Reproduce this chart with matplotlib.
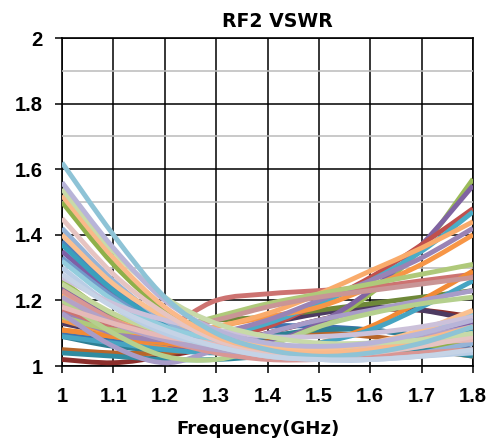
import numpy as np
import matplotlib
matplotlib.use("Agg")
import matplotlib.pyplot as plt
from matplotlib.path import Path
from matplotlib.patches import PathPatch
from matplotlib.ticker import MultipleLocator

# frequency points (GHz)
freq = [1.0, 1.1, 1.2, 1.3, 1.4, 1.5, 1.6, 1.7, 1.8]

# VSWR curves (one list per trace)
s01 = [1.02, 1.01, 1.03, 1.06, 1.10, 1.14, 1.17, 1.17, 1.15]
s02 = [1.05, 1.04, 1.04, 1.06, 1.08, 1.10, 1.09, 1.07, 1.04]
s03 = [1.10, 1.08, 1.07, 1.08, 1.12, 1.12, 1.11, 1.09, 1.05]
s04 = [1.13, 1.10, 1.09, 1.10, 1.13, 1.16, 1.18, 1.17, 1.14]
s05 = [1.09, 1.06, 1.05, 1.06, 1.09, 1.11, 1.11, 1.09, 1.07]
s06 = [1.11, 1.09, 1.06, 1.04, 1.03, 1.04, 1.06, 1.05, 1.03]
s07 = [1.20, 1.15, 1.13, 1.14, 1.15, 1.17, 1.19, 1.21, 1.23]
s08 = [1.26, 1.15, 1.08, 1.05, 1.07, 1.12, 1.22, 1.36, 1.57]
s09 = [1.24, 1.14, 1.07, 1.05, 1.07, 1.13, 1.23, 1.37, 1.55]
s10 = [1.20, 1.12, 1.07, 1.08, 1.12, 1.19, 1.27, 1.37, 1.48]
s11 = [1.18, 1.11, 1.07, 1.09, 1.13, 1.19, 1.26, 1.35, 1.47]
s12 = [1.14, 1.10, 1.09, 1.12, 1.15, 1.18, 1.24, 1.31, 1.40]
s13 = [1.38, 1.24, 1.14, 1.08, 1.04, 1.02, 1.03, 1.05, 1.08]
s14 = [1.17, 1.12, 1.12, 1.20, 1.22, 1.23, 1.24, 1.26, 1.28]
s15 = [1.50, 1.31, 1.17, 1.09, 1.05, 1.03, 1.03, 1.05, 1.08]
s16 = [1.35, 1.22, 1.13, 1.09, 1.06, 1.05, 1.06, 1.09, 1.13]
s17 = [1.37, 1.23, 1.13, 1.08, 1.05, 1.04, 1.05, 1.08, 1.11]
s18 = [1.11, 1.09, 1.07, 1.05, 1.05, 1.07, 1.12, 1.20, 1.29]
s19 = [1.04, 1.03, 1.02, 1.02, 1.03, 1.04, 1.05, 1.05, 1.03]
s20 = [1.09, 1.07, 1.05, 1.04, 1.05, 1.07, 1.11, 1.18, 1.26]
s21 = [1.22, 1.14, 1.10, 1.12, 1.16, 1.22, 1.29, 1.36, 1.44]
s22 = [1.16, 1.10, 1.08, 1.10, 1.14, 1.20, 1.26, 1.33, 1.42]
s23 = [1.15, 1.11, 1.11, 1.15, 1.19, 1.22, 1.25, 1.28, 1.31]
s24 = [1.19, 1.13, 1.11, 1.14, 1.18, 1.21, 1.23, 1.25, 1.27]
s25 = [1.33, 1.21, 1.12, 1.07, 1.04, 1.03, 1.04, 1.06, 1.10]
s26 = [1.16, 1.06, 1.01, 1.05, 1.10, 1.14, 1.17, 1.20, 1.23]
s27 = [1.20, 1.10, 1.03, 1.02, 1.06, 1.12, 1.16, 1.19, 1.21]
s28 = [1.42, 1.26, 1.14, 1.07, 1.03, 1.02, 1.02, 1.04, 1.07]
s29 = [1.23, 1.14, 1.08, 1.04, 1.02, 1.02, 1.03, 1.04, 1.05]
s30 = [1.25, 1.16, 1.10, 1.06, 1.04, 1.04, 1.05, 1.07, 1.09]
s31 = [1.21, 1.13, 1.08, 1.05, 1.04, 1.05, 1.07, 1.09, 1.12]
s32 = [1.18, 1.13, 1.09, 1.07, 1.06, 1.06, 1.06, 1.07, 1.08]
s33 = [1.30, 1.18, 1.10, 1.06, 1.03, 1.02, 1.02, 1.03, 1.04]
s34 = [1.32, 1.20, 1.12, 1.08, 1.05, 1.05, 1.07, 1.10, 1.16]
s35 = [1.40, 1.25, 1.15, 1.09, 1.06, 1.05, 1.07, 1.11, 1.17]
s36 = [1.27, 1.19, 1.14, 1.11, 1.09, 1.09, 1.10, 1.12, 1.15]
s37 = [1.45, 1.28, 1.16, 1.08, 1.04, 1.03, 1.04, 1.06, 1.09]
s38 = [1.52, 1.33, 1.18, 1.09, 1.05, 1.04, 1.05, 1.08, 1.12]
s39 = [1.54, 1.35, 1.21, 1.13, 1.09, 1.07, 1.07, 1.08, 1.10]
s40 = [1.56, 1.36, 1.20, 1.11, 1.07, 1.06, 1.07, 1.10, 1.14]
s41 = [1.62, 1.40, 1.21, 1.10, 1.05, 1.03, 1.04, 1.07, 1.12]
s42 = [1.28, 1.18, 1.11, 1.06, 1.03, 1.02, 1.02, 1.03, 1.05]

series = [s01, s02, s03, s04, s05, s06, s07, s08, s09, s10, s11, s12, s13, s14,
          s15, s16, s17, s18, s19, s20, s21, s22, s23, s24, s25, s26, s27, s28,
          s29, s30, s31, s32, s33, s34, s35, s36, s37, s38, s39, s40, s41, s42]

colors = ['#8B2E2B', '#B8662A', '#3F72AF', '#4D3B62', '#2E7F94', '#F08A3C',
          '#6E8838', '#9BBB59', '#8064A2', '#C0504D', '#4BACC6', '#F79646',
          '#4F81BD', '#CD7371', '#8FB04A', '#7E5FA6', '#3AA0BC', '#F28A35',
          '#2F8BA0', '#46A4C2', '#F9AB6B', '#9983B5', '#AFC97A', '#C99596',
          '#729ACA', '#A89CC8', '#B5D08E', '#95B3D7', '#D99694', '#C3D69B',
          '#B3A2C7', '#E6B9B8', '#B9CDE5', '#93CDDD', '#FAC090', '#CCC1DA',
          '#E6C4C2', '#FAB98A', '#C8DAA8', '#B8B4D8', '#8EC3D6', '#C5D3E6']


def smooth_path(x, y):
    # Excel style "smoothed line": cubic bezier through the points
    x = np.asarray(x, float)
    y = np.asarray(y, float)
    n = len(x)
    verts = [(x[0], y[0])]
    codes = [Path.MOVETO]
    for i in range(n - 1):
        i0 = max(i - 1, 0)
        i3 = min(i + 2, n - 1)
        c1 = (x[i] + (x[i + 1] - x[i0]) / 6, y[i] + (y[i + 1] - y[i0]) / 6)
        c2 = (x[i + 1] - (x[i3] - x[i]) / 6, y[i + 1] - (y[i3] - y[i]) / 6)
        verts += [c1, c2, (x[i + 1], y[i + 1])]
        codes += [Path.CURVE4] * 3
    return Path(verts, codes)


fig = plt.figure(figsize=(4.93, 4.41), dpi=100)
ax = fig.add_axes([0.1258, 0.170, 0.8336, 0.7438])

for vals, c in zip(series, colors):
    ax.add_patch(PathPatch(smooth_path(freq, vals), facecolor='none', edgecolor=c,
                           lw=3.5, capstyle='butt', joinstyle='round', zorder=2))

ax.set_xlim(1.0, 1.8)
ax.set_ylim(1.0, 2.0)
ax.yaxis.set_minor_locator(MultipleLocator(0.1))
ax.grid(True, which='major', color='black', lw=1.1)
ax.grid(True, which='minor', axis='y', color='#BBBBBB', lw=1.1)
ax.set_axisbelow(True)
for sp in ax.spines.values():
    sp.set_color('black')
    sp.set_linewidth(1.2)
    sp.set_zorder(0.5)

ax.set_xticks(freq)
ax.set_xticklabels(['1', '1.1', '1.2', '1.3', '1.4', '1.5', '1.6', '1.7', '1.8'])
ax.set_yticks([1.0, 1.2, 1.4, 1.6, 1.8, 2.0])
ax.set_yticklabels(['1', '1.2', '1.4', '1.6', '1.8', '2'])
ax.tick_params(axis='both', which='major', length=5, width=1.1, direction='out',
               labelsize=14.5)
ax.tick_params(axis='x', pad=10)
ax.tick_params(axis='y', pad=9)
ax.tick_params(axis='y', which='minor', length=0)
for lab in ax.get_xticklabels() + ax.get_yticklabels():
    lab.set_fontfamily('Liberation Sans')
    lab.set_fontweight('bold')

ax.set_title('RF2 VSWR', fontsize=13.6, fontweight='bold', family='DejaVu Sans',
             x=0.524, pad=8)
ax.set_xlabel('Frequency(GHz)', fontsize=13.1, fontweight='bold', family='DejaVu Sans')
ax.xaxis.set_label_coords(0.477, -0.165)

fig.savefig('out.png', dpi=100)
